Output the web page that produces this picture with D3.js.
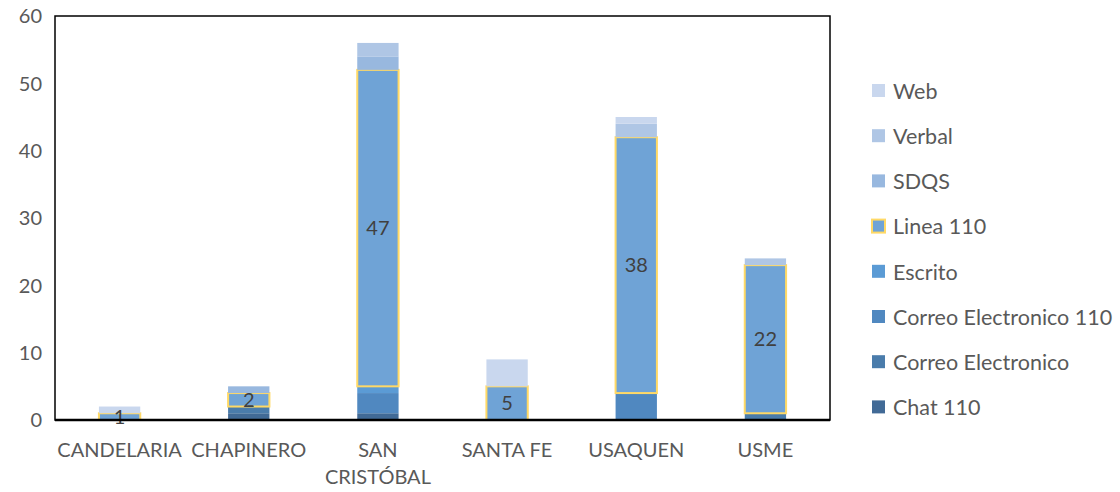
<!DOCTYPE html>
<html>
<head>
<meta charset="utf-8">
<script src="https://cdn.jsdelivr.net/npm/d3@7"></script>
<style>
  body { margin: 0; background: #fff; }
  text { font-family: Lato, "Open Sans", sans-serif; fill: #595959; }
</style>
</head>
<body>
<div id="chart"></div>
<script>
var categories = ['CANDELARIA', 'CHAPINERO', 'SAN CRISTÓBAL', 'SANTA FE', 'USAQUEN', 'USME'];
var seriesNames = ['Chat 110', 'Correo Electronico', 'Correo Electronico 110', 'Escrito', 'Linea 110', 'SDQS', 'Verbal', 'Web'];

var chat110 = [0, 1, 1, 0, 0, 0];
var correo = [0, 1, 0, 0, 0, 1];
var correo110 = [0, 0, 3, 0, 4, 0];
var escrito = [0, 0, 1, 0, 0, 0];
var linea110 = [1, 2, 47, 5, 38, 22];
var sdqs = [0, 1, 2, 0, 0, 0];
var verbal = [0, 0, 2, 0, 2, 1];
var web = [1, 0, 0, 4, 1, 0];

var yTicks = [0, 10, 20, 30, 40, 50, 60];

var colors = ['#416a96', '#4a7cab', '#5088c0', '#5b9bd5', '#6fa3d6', '#98b8df', '#afc6e5', '#c9d7ee'];

var seriesValues = [chat110, correo, correo110, escrito, linea110, sdqs, verbal, web];

var rows = categories.map(function(c, i) {
    var r = { cat: c };
    seriesNames.forEach(function(s, j) { r[s] = seriesValues[j][i]; });
    return r;
});

var W = 1120, H = 492;
var margin = { top: 16, right: 290, bottom: 72, left: 55 };
var width = 830 - margin.left,
    height = 420 - margin.top;

var svg = d3.select('#chart').append('svg')
    .attr('width', W)
    .attr('height', H);

var g = svg.append('g')
    .attr('transform', 'translate(' + margin.left + ',' + margin.top + ')');

var x = d3.scaleBand().domain(categories).range([0, width]).paddingInner(0.68).paddingOuter(0.34);
var y = d3.scaleLinear().domain([0, 60]).range([height, 0]);

var stacked = d3.stack().keys(seriesNames)(rows);

var layers = g.selectAll('g.layer').data(stacked)
    .enter().append('g')
    .attr('class', 'layer')
    .style('fill', function(d, i) { return colors[i]; });

layers.selectAll('rect')
    .data(function(d) { return d.filter(function(p) { return p[1] > p[0]; }); })
    .enter().append('rect')
    .attr('x', function(d) { return x(d.data.cat); })
    .attr('width', x.bandwidth())
    .attr('y', function(d) { return y(d[1]); })
    .attr('height', function(d) { return y(d[0]) - y(d[1]); })
    .style('stroke', function() {
        return d3.select(this.parentNode).datum().key === 'Linea 110' ? '#ffd966' : 'none';
    })
    .style('stroke-width', 2);

// labels on Linea 110
var lineaLayer = stacked[seriesNames.indexOf('Linea 110')];
g.selectAll('text.lbl').data(lineaLayer)
    .enter().append('text')
    .attr('class', 'lbl')
    .attr('x', function(d) { return x(d.data.cat) + x.bandwidth() / 2; })
    .attr('y', function(d) { return (y(d[0]) + y(d[1])) / 2; })
    .attr('dy', '0.36em')
    .attr('text-anchor', 'middle')
    .style('font-size', '20px')
    .style('fill', '#404040')
    .text(function(d) { return d[1] - d[0]; });

// plot frame
g.append('rect')
    .attr('width', width)
    .attr('height', height)
    .style('fill', 'none')
    .style('stroke', '#000')
    .style('stroke-width', 1.5);

g.append('line')
    .attr('x1', 0).attr('x2', width)
    .attr('y1', height).attr('y2', height)
    .style('stroke', '#000')
    .style('stroke-width', 2.5);

// y axis labels
g.selectAll('text.ytick').data(yTicks)
    .enter().append('text')
    .attr('class', 'ytick')
    .attr('x', -13)
    .attr('y', function(d) { return y(d); })
    .attr('dy', '0.36em')
    .attr('text-anchor', 'end')
    .style('font-size', '20px')
    .text(function(d) { return d; });

// x axis labels
var xl = g.selectAll('text.xtick').data(categories)
    .enter().append('text')
    .attr('class', 'xtick')
    .attr('text-anchor', 'middle')
    .attr('x', function(d) { return x(d) + x.bandwidth() / 2; })
    .attr('y', height + 37)
    .style('font-size', '20px');

xl.each(function(d) {
    var words = d === 'SAN CRISTÓBAL' ? ['SAN', 'CRISTÓBAL'] : [d];
    var t = d3.select(this);
    words.forEach(function(w, i) {
        t.append('tspan')
            .attr('x', x(d) + x.bandwidth() / 2)
            .attr('dy', i === 0 ? 0 : 27)
            .text(w);
    });
});

// legend (reverse order)
var legend = svg.append('g').attr('transform', 'translate(872,91)');
var legItems = legend.selectAll('g').data(seriesNames.slice().reverse())
    .enter().append('g')
    .attr('transform', function(d, i) { return 'translate(0,' + (i * 45.2) + ')'; });

legItems.append('rect')
    .attr('x', 0).attr('y', -7)
    .attr('width', 13).attr('height', 13)
    .style('fill', function(d) { return colors[seriesNames.indexOf(d)]; })
    .style('stroke', function(d) { return d === 'Linea 110' ? '#ffd966' : 'none'; })
    .style('stroke-width', 2);

legItems.append('text')
    .attr('x', 21)
    .attr('dy', '0.36em')
    .style('font-size', '21.5px')
    .text(function(d) { return d; });
</script>
</body>
</html>
